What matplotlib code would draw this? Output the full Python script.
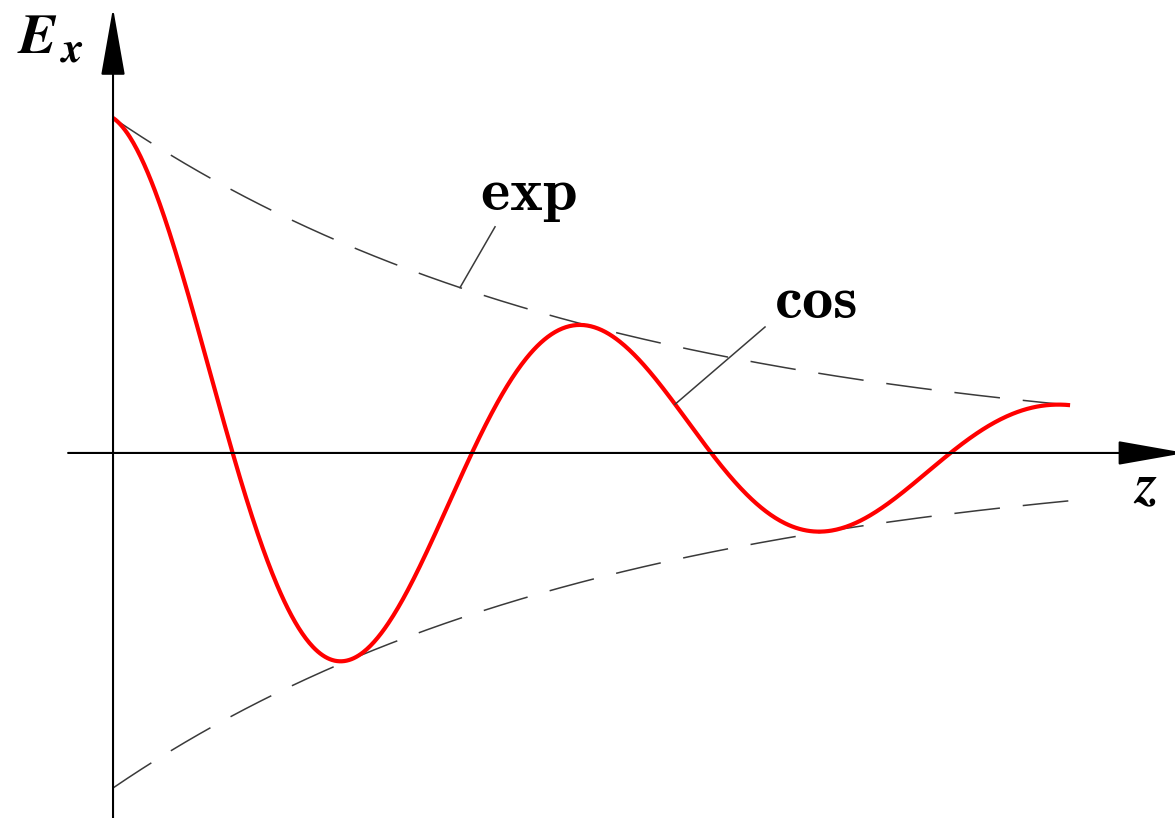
import numpy as np
import matplotlib
matplotlib.use("Agg")
import matplotlib.pyplot as plt

plt.rcParams["mathtext.fontset"] = "cm"

# damped wave E_x = exp(-alpha z) cos(k z) with its envelope
alpha = 0.155
k = 1.0
z_end = 4 * np.pi
z = np.linspace(0, z_end, 800)
env = np.exp(-alpha * z)
ex = env * np.cos(k * z)

fig = plt.figure(figsize=(11.75, 8.18), dpi=100)
ax = fig.add_axes([0, 0, 1, 1])
ax.set_xlim(-1.484, 13.944)
ax.set_ylim(-1.0896, 1.352)
ax.axis("off")

# axes with arrow heads
arrow = dict(arrowstyle="-|>,head_length=2.15,head_width=0.38", mutation_scale=20,
             lw=1.5, color="black", shrinkA=0, shrinkB=0)
ax.annotate("", xy=(14.08, 0), xytext=(-0.59, 0), arrowprops=arrow,
            annotation_clip=False)
ax.annotate("", xy=(0, 1.328), xytext=(0, -1.1), arrowprops=arrow,
            annotation_clip=False)

# envelope
ax.plot(z, env, color="#3a3a3a", lw=1.1, dashes=(30, 15))
ax.plot(z, -env, color="#3a3a3a", lw=1.1, dashes=(30, 15))

# oscillation
ax.plot(z, ex, color="#ff0000", lw=3.0, solid_capstyle="butt")

# labels with leader lines
z_exp = 4.556
ax.plot([5.016, z_exp], [0.675, np.exp(-alpha * z_exp)], color="#3a3a3a", lw=1.1)
ax.text(5.449, 0.725, r"$\mathbf{exp}$", fontsize=45, ha="center", va="baseline")

z_cos = 7.38
ax.plot([8.561, z_cos], [0.376, np.exp(-alpha * z_cos) * np.cos(k * z_cos)],
        color="#3a3a3a", lw=1.1)
ax.text(9.23, 0.403, r"$\mathbf{cos}$", fontsize=45, ha="center", va="baseline")

# axis names
ax.text(-1.26, 1.194, r"$\mathbfit{E}$", fontsize=41, ha="left", va="baseline",
        math_fontfamily="stix")
ax.text(-0.70, 1.167, r"$\mathbfit{x}$", fontsize=31, ha="left", va="baseline",
        math_fontfamily="stix")
ax.text(13.55, -0.146, r"$\mathbfit{z}$", fontsize=40, ha="center", va="baseline",
        math_fontfamily="stix")

fig.savefig("out.png", dpi=100)
